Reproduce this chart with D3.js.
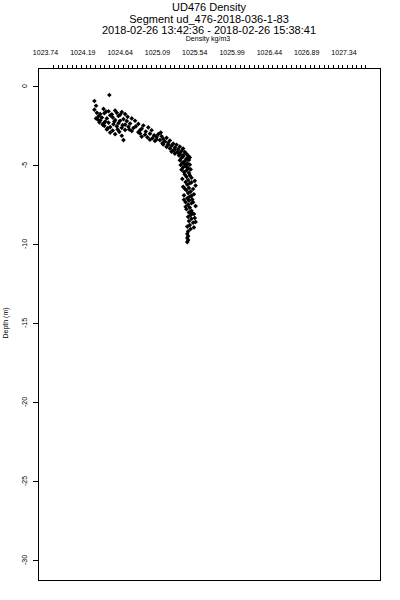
<!DOCTYPE html>
<html>
<head>
<meta charset="utf-8">
<script src="https://cdn.jsdelivr.net/npm/d3@7"></script>
<style>
  body { margin: 0; background: #fff; }
  text { font-family: "Liberation Sans", Arial, sans-serif; fill: #000; }
</style>
</head>
<body>
<div id="wrapper"></div>
<script>
const titleLines = [
    "UD476 Density",
    "Segment ud_476-2018-036-1-83",
    "2018-02-26 13:42:36 - 2018-02-26 15:38:41",
]
const xLabel = "Density kg/m3"
const yLabel = "Depth (m)"

const xTickLabels = [1023.74, 1024.19, 1024.64, 1025.09, 1025.54, 1025.99, 1026.44, 1026.89, 1027.34]
const yTickValues = [0, -5, -10, -15, -20, -25, -30]

// density (kg/m3), depth (m)
const density = [
    1024.51, 1024.33, 1024.35, 1024.44, 1024.33, 1024.50, 1024.58,
    1024.36, 1024.40, 1024.45, 1024.52, 1024.60, 1024.66, 1024.70, 1024.62, 1024.38, 1024.42,
    1024.48, 1024.55, 1024.73, 1024.78, 1024.68, 1024.35, 1024.40, 1024.46, 1024.58, 1024.64,
    1024.72, 1024.82,
    1024.39, 1024.44, 1024.50, 1024.56, 1024.62, 1024.70, 1024.76, 1024.86, 1024.92, 1024.45,
    1024.52, 1024.60, 1024.66, 1024.74, 1024.80, 1024.90, 1024.98, 1024.48, 1024.55, 1024.63,
    1024.70, 1024.78, 1024.86, 1024.95, 1025.02, 1024.58, 1024.66, 1024.52,
    1024.37, 1024.43, 1024.49, 1024.57, 1024.61, 1024.67, 1024.75, 1024.83, 1024.88, 1024.54,
    1024.64, 1024.47,
    1024.88, 1024.94, 1025.00, 1025.05, 1025.10, 1025.14, 1024.90, 1024.97, 1025.03, 1025.08,
    1025.16, 1025.20, 1025.12, 1025.06, 1025.18, 1025.24, 1025.00, 1024.68, 1025.13,
    1025.08, 1025.15, 1025.22,
    1025.22, 1025.28, 1025.16, 1025.26, 1025.32, 1025.20, 1025.30, 1025.36, 1025.24, 1025.34,
    1025.40, 1025.28, 1025.38, 1025.33, 1025.42, 1025.30, 1025.36, 1025.44, 1025.26,
    1025.30, 1025.36, 1025.40,
    1025.35, 1025.40, 1025.46, 1025.38, 1025.44, 1025.48, 1025.36, 1025.42, 1025.47, 1025.39,
    1025.45, 1025.37, 1025.43, 1025.48, 1025.40, 1025.46, 1025.38, 1025.44, 1025.49, 1025.41,
    1025.47, 1025.45, 1025.42, 1025.44,
    1025.42, 1025.48, 1025.44, 1025.50, 1025.39, 1025.46, 1025.54, 1025.43, 1025.48, 1025.45,
    1025.55, 1025.40, 1025.47, 1025.52, 1025.44, 1025.49, 1025.46, 1025.53, 1025.41, 1025.48,
    1025.45, 1025.51, 1025.47, 1025.43, 1025.50, 1025.46, 1025.55, 1025.48, 1025.44, 1025.50,
    1025.47, 1025.53, 1025.49, 1025.46,
    1025.50, 1025.42, 1025.50, 1025.41, 1025.52, 1025.43, 1025.51,
    1025.50, 1025.47, 1025.52, 1025.48, 1025.45, 1025.49, 1025.46, 1025.45, 1025.46, 1025.45,
    1025.46, 1025.45, 1025.54, 1025.55, 1025.53,
]
const depth = [
    -0.57, -0.95, -1.25, -1.45, -1.50, -1.60, -1.55,
    -1.70, -1.78, -1.72, -1.85, -1.70, -1.65, -1.78, -1.90, -1.92, -2.00,
    -2.05, -1.98, -1.95, -2.05, -2.10, -2.05, -2.18, -2.25, -2.15, -2.20,
    -2.22, -2.20,
    -2.30, -2.38, -2.32, -2.42, -2.35, -2.45, -2.38, -2.40, -2.50, -2.52,
    -2.60, -2.55, -2.65, -2.58, -2.66, -2.70, -2.62, -2.75, -2.82, -2.90,
    -2.78, -2.85, -2.92, -2.88, -2.80, -3.05, -3.15, -2.95,
    -2.12, -2.45, -2.68, -2.25, -2.75, -2.48, -2.75, -2.55, -2.80, -1.80,
    -1.82, -1.62,
    -3.00, -3.08, -3.02, -3.12, -3.05, -3.18, -3.20, -3.25, -3.30, -3.22,
    -3.35, -3.28, -3.42, -3.48, -3.52, -3.45, -3.40, -3.42, -2.95,
    -3.38, -3.62, -3.72,
    -3.60, -3.65, -3.70, -3.78, -3.72, -3.85, -3.90, -3.84, -3.95, -4.00,
    -3.96, -4.08, -4.12, -4.20, -4.18, -4.28, -4.32, -4.30, -4.15,
    -4.05, -4.22, -4.38,
    -4.40, -4.45, -4.42, -4.55, -4.60, -4.52, -4.70, -4.75, -4.68, -4.85,
    -4.90, -5.00, -5.05, -4.98, -5.15, -5.20, -5.30, -5.35, -5.28, -5.45,
    -5.50, -4.65, -4.95, -5.10,
    -5.60, -5.65, -5.75, -5.80, -5.88, -5.95, -6.00, -6.08, -6.15, -6.25,
    -6.30, -6.38, -6.45, -6.52, -6.60, -6.68, -6.78, -6.85, -6.92, -7.00,
    -7.10, -7.18, -7.25, -7.35, -7.42, -7.52, -7.60, -7.70, -7.80, -7.90,
    -8.00, -8.10, -8.18, -8.28,
    -6.10, -6.50, -6.95, -7.20, -7.35, -7.65, -8.05,
    -8.40, -8.55, -8.65, -8.80, -8.90, -9.05, -9.20, -9.35, -9.50, -9.62,
    -9.75, -9.88, -8.35, -8.60, -8.95,
]

const dataset = density.map((d, i) => ({ density: d, depth: depth[i] }))
const xAccessor = d => d.density
const yAccessor = d => d.depth

const dimensions = {
    width: 400,
    height: 600,
    box: { left: 38, top: 68, right: 380, bottom: 580 },
}

const svg = d3.select("#wrapper")
    .append("svg")
    .attr("width", dimensions.width)
    .attr("height", dimensions.height)

const xScale = d3.scaleLinear()
    .domain([1023.74, 1027.34])
    .range([45.5, 344])
const yScale = d3.scaleLinear()
    .domain([0, -30])
    .range([86, 560])

// titles
svg.selectAll(".title")
    .data(titleLines)
    .join("text")
    .attr("class", "title")
    .attr("x", 209)
    .attr("y", (d, i) => 11 + i * 11.5)
    .attr("text-anchor", "middle")
    .style("font-size", "11px")
    .text(d => d)

svg.append("text")
    .attr("x", 208)
    .attr("y", 41)
    .attr("text-anchor", "middle")
    .style("font-size", "7px")
    .text(xLabel)

// box
const b = dimensions.box
svg.append("rect")
    .attr("x", b.left + 0.5)
    .attr("y", b.top + 0.5)
    .attr("width", b.right - b.left)
    .attr("height", b.bottom - b.top)
    .attr("fill", "none")
    .attr("stroke", "black")

// top axis: minor ticks + labels
const minorTicks = d3.range(xScale.invert(53), xScale.invert(368), 0.45 / 8)
svg.append("g")
    .selectAll("line")
    .data(minorTicks)
    .join("line")
    .attr("x1", d => Math.round(xScale(d)) + 0.5)
    .attr("x2", d => Math.round(xScale(d)) + 0.5)
    .attr("y1", b.top + 0.5)
    .attr("y2", b.top - 3)
    .attr("stroke", "black")

svg.append("g")
    .selectAll("text")
    .data(xTickLabels)
    .join("text")
    .attr("x", d => xScale(d))
    .attr("y", 55)
    .attr("text-anchor", "middle")
    .style("font-size", "7px")
    .text(d => d.toFixed(2))

// left axis
const yAxis = svg.append("g")
yAxis.selectAll("line")
    .data(yTickValues)
    .join("line")
    .attr("x1", b.left + 0.5)
    .attr("x2", b.left - 5)
    .attr("y1", d => Math.round(yScale(d)) + 0.5)
    .attr("y2", d => Math.round(yScale(d)) + 0.5)
    .attr("stroke", "black")
yAxis.selectAll("text")
    .data(yTickValues)
    .join("text")
    .attr("transform", d => `translate(26.5, ${yScale(d)}) rotate(-90)`)
    .attr("text-anchor", "middle")
    .style("font-size", "7px")
    .text(d => d)

svg.append("text")
    .attr("transform", "translate(8, 323) rotate(-90)")
    .attr("text-anchor", "middle")
    .style("font-size", "7px")
    .text(yLabel)

// points
const symbol = d3.symbol(d3.symbolDiamond2, 14)
svg.append("g")
    .selectAll("path")
    .data(dataset)
    .join("path")
    .attr("transform", d => `translate(${xScale(xAccessor(d))}, ${yScale(yAccessor(d))})`)
    .attr("d", symbol)
    .attr("fill", "black")
</script>
</body>
</html>
